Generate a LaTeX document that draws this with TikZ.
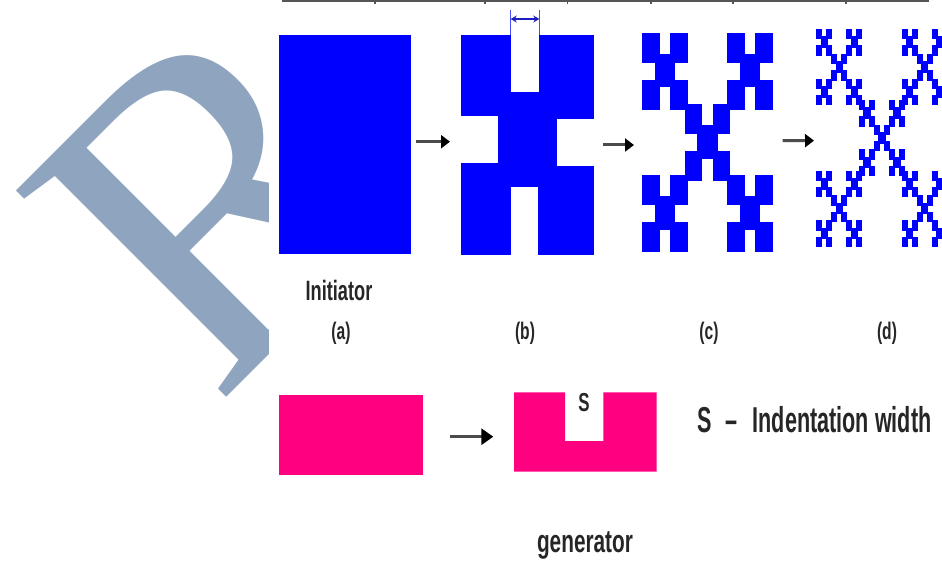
\documentclass[tikz,border=0pt]{standalone}
\usepackage{fontspec}
\usetikzlibrary{arrows.meta}
\newfontfamily\labelfont[FakeStretch=0.65]{Liberation Sans}
\newfontfamily\legendfont[FakeStretch=0.6]{Liberation Sans}
\newfontfamily\markfont{Liberation Serif}
\definecolor{fracblue}{RGB}{0,0,255}
\definecolor{genpink}{RGB}{255,0,128}
\definecolor{markslate}{RGB}{143,165,191}
\definecolor{labelgray}{RGB}{38,38,38}
\definecolor{shaftgray}{RGB}{75,75,75}
\definecolor{rulegray}{RGB}{85,85,85}
\definecolor{dimblue}{RGB}{30,30,190}

% one iteration: four corner blocks and an overlapping centre block
\newcommand\fracone[4]{%
  \fill[fracblue] ({#1},{#2}) rectangle ++({0.39*(#3)},{0.39*(#4)});
  \fill[fracblue] ({(#1)+0.61*(#3)},{#2}) rectangle ++({0.39*(#3)},{0.39*(#4)});
  \fill[fracblue] ({#1},{(#2)+0.61*(#4)}) rectangle ++({0.39*(#3)},{0.39*(#4)});
  \fill[fracblue] ({(#1)+0.61*(#3)},{(#2)+0.61*(#4)}) rectangle ++({0.39*(#3)},{0.39*(#4)});
  \fill[fracblue] ({(#1)+0.28*(#3)},{(#2)+0.27*(#4)}) rectangle ++({0.44*(#3)},{0.44*(#4)});
}
% two iterations: five scaled copies of the first one
\newcommand\fractwo[4]{%
  \fracone{#1}{#2}{0.35*(#3)}{0.35*(#4)}
  \fracone{(#1)+0.65*(#3)}{#2}{0.35*(#3)}{0.35*(#4)}
  \fracone{#1}{(#2)+0.65*(#4)}{0.35*(#3)}{0.35*(#4)}
  \fracone{(#1)+0.65*(#3)}{(#2)+0.65*(#4)}{0.35*(#3)}{0.35*(#4)}
  \fracone{(#1)+0.325*(#3)}{(#2)+0.325*(#4)}{0.35*(#3)}{0.35*(#4)}
}
% three iterations
\newcommand\fracthree[4]{%
  \fractwo{#1}{#2}{0.35*(#3)}{0.35*(#4)}
  \fractwo{(#1)+0.65*(#3)}{#2}{0.35*(#3)}{0.35*(#4)}
  \fractwo{#1}{(#2)+0.65*(#4)}{0.35*(#3)}{0.35*(#4)}
  \fractwo{(#1)+0.65*(#3)}{(#2)+0.65*(#4)}{0.35*(#3)}{0.35*(#4)}
  \fractwo{(#1)+0.325*(#3)}{(#2)+0.325*(#4)}{0.35*(#3)}{0.35*(#4)}
}

\tikzset{
  figbox/.style={draw=none, inner sep=0pt, outer sep=0pt},
  lbl/.style={inner sep=0pt, text=labelgray, font=\labelfont\bfseries},
  caplbl/.style={lbl, font=\labelfont\bfseries\fontsize{24}{24}\selectfont},
  flowarrow/.style={draw=shaftgray, line width=3pt,
    -{Triangle[length=9pt,width=13pt,color=black]}},
  dimarrow/.style={draw=dimblue, line width=1.3pt,
    {Stealth[length=6pt,width=7pt]}-{Stealth[length=6pt,width=7pt]}},
  dimline/.style={draw=fracblue!70, line width=0.8pt}
}

\begin{document}
\begin{tikzpicture}[x=1pt,y=-1pt]
\useasboundingbox (0,0) rectangle (942,561);

% rotated monogram in the margin
\begin{scope}
  \clip (0,0) rectangle (268,561);
  \node[inner sep=0pt, anchor=base west, rotate=45, text=markslate,
        font=\markfont\fontsize{450}{450}\selectfont] (mono) at (215,409) {R};
\end{scope}

% ruler along the top edge
\draw[rulegray, line width=2pt] (282,1) -- (929,1);
\foreach \tx in {375,485,567.7,651,733,846}
  \draw[rulegray, line width=1.2pt] (\tx,0) -- (\tx,4);

% (a) initiator
\node[figbox, fill=fracblue, minimum width=132pt, minimum height=219pt] (figA) at (345,144.5) {};

% (b) first iteration
\node[figbox, minimum width=133pt, minimum height=220pt] (figB) at (527.5,145) {};
\fill[fracblue] (461,35) rectangle (510.7,116);
\fill[fracblue] (539.3,35) rectangle (594,119);
\fill[fracblue] (461,162.7) rectangle (510.7,255);
\fill[fracblue] (538.3,166) rectangle (594,255);
\fill[fracblue] (498.3,91.7) rectangle (557.3,186.7);

% indentation width marker above (b)
\draw[dimline] (510.7,10) -- (510.7,35);
\draw[dimline] (539.3,10) -- (539.3,35);
\coordinate (dimL) at (510.7,19);
\coordinate (dimR) at (539.3,19);
\draw[dimarrow] (dimL) -- (dimR);

% (c) second iteration
\node[figbox, minimum width=131pt, minimum height=219pt] (figC) at (707.5,142.5) {};
\fractwo{642}{33}{131}{219}

% (d) third iteration
\node[figbox, minimum width=132pt, minimum height=218pt] (figD) at (882,138) {};
\fracthree{816}{29}{132}{218}

% arrows between the stages
\draw[flowarrow] ([xshift=5pt,yshift=2.8pt]figA.east) -- ([xshift=-11pt,yshift=3.3pt]figB.west);
\draw[flowarrow] ([xshift=9pt]figB.east) -- ([xshift=-8pt,yshift=-2.5pt]figC.west);
\draw[flowarrow] ([xshift=9.7pt,yshift=1.8pt]figC.east) -- ([xshift=-2pt,yshift=-2.6pt]figD.west);

% captions
\node[lbl, font=\labelfont\bfseries\fontsize{28}{28}\selectfont] (initLbl) at (339,290) {Initiator};
\node[caplbl] (capA) at (341,333) {(a)};
\node[caplbl] (capB) at (525,333) {(b)};
\node[caplbl] (capC) at (709,333) {(c)};
\node[caplbl] (capD) at (887,333) {(d)};

% generator
\node[figbox, fill=genpink, minimum width=144pt, minimum height=80pt] (genA) at (351.3,435) {};
\node[figbox, minimum width=142.7pt, minimum height=79.4pt] (genB) at (585.35,432) {};
\fill[genpink] (514,392.3) -- (565,392.3) -- (565,441) -- (603.3,441) -- (603.3,392.3)
  -- (656.7,392.3) -- (656.7,471.7) -- (514,471.7) -- cycle;
\draw[flowarrow, line width=3.5pt, -{Triangle[length=12pt,width=16pt,color=black]}]
  ([xshift=26.7pt,yshift=-1.7pt]genA.east) -- ([xshift=-20.7pt,yshift=-4.7pt]genB.west);
\node[lbl, font=\labelfont\bfseries\fontsize{26}{26}\selectfont] (notchS) at (584,403) {S};
\node[lbl, anchor=west, font=\legendfont\bfseries\fontsize{36}{36}\selectfont] (legend) at (697,420)
  {S\hspace{14pt}–\hspace{15pt}Indentation width};
\node[lbl, font=\labelfont\bfseries\fontsize{32}{32}\selectfont] (genLbl) at (585,545) {generator};
\end{tikzpicture}
\end{document}
